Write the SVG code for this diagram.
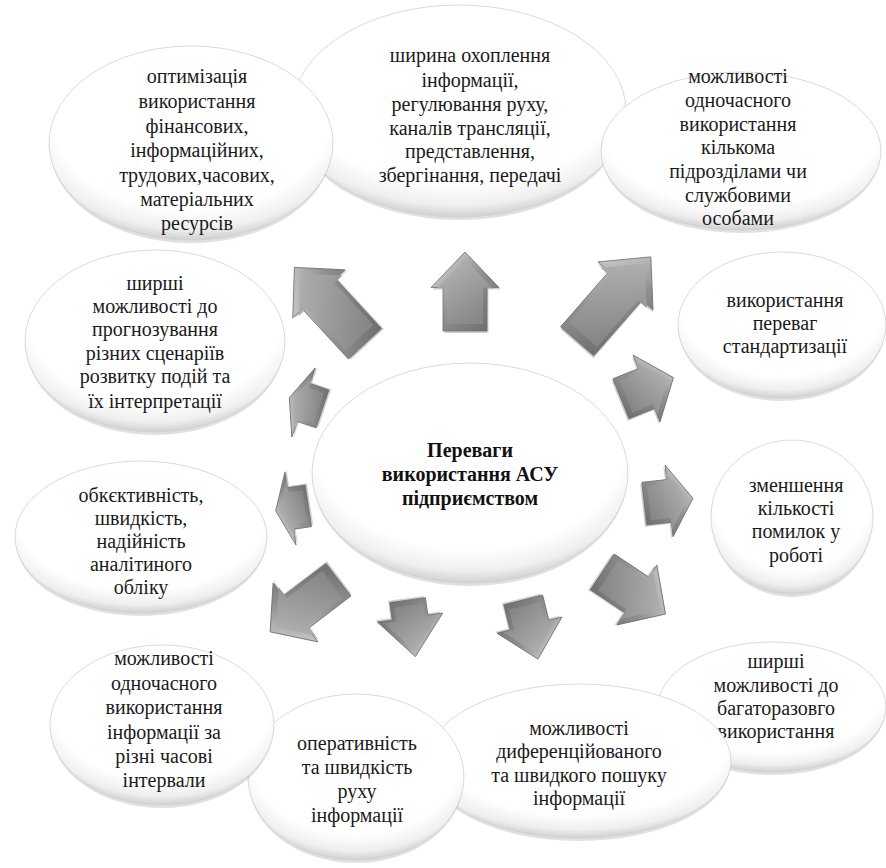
<svg xmlns="http://www.w3.org/2000/svg" width="886" height="868" viewBox="0 0 886 868">
<defs>
<radialGradient id="ellG" cx="0.5" cy="0.36" r="0.68">
<stop offset="0" stop-color="#ffffff"/>
<stop offset="0.72" stop-color="#ffffff"/>
<stop offset="0.86" stop-color="#efefef"/>
<stop offset="0.95" stop-color="#cdcdcd"/>
<stop offset="1" stop-color="#a8a8a8"/>
</radialGradient>
<linearGradient id="arrOuter" x1="0" y1="0" x2="1" y2="1">
<stop offset="0" stop-color="#e2e2e2"/>
<stop offset="0.5" stop-color="#909090"/>
<stop offset="1" stop-color="#666666"/>
</linearGradient>
<linearGradient id="arrInner" x1="0" y1="0" x2="0.6" y2="1">
<stop offset="0" stop-color="#b8b8b8"/>
<stop offset="1" stop-color="#888888"/>
</linearGradient>
</defs>
<style>
.ell{fill:url(#ellG);stroke:#cfcfcf;stroke-width:0.8}
.shd{fill:#000000;opacity:0.12}
.t{fill:#1a1a1a}
.tb{font-weight:bold;fill:#111111}
.ao{fill:url(#arrOuter);stroke:#6e6e6e;stroke-width:0.8}
.ai{fill:url(#arrInner)}
.as{fill:#000000;opacity:0.18}
</style>
<rect width="886" height="868" fill="#ffffff"/>

<g id="nodes" font-family="Liberation Serif" font-size="20" text-anchor="middle">
<g id="n-shyryna">
<ellipse class="shd" cx="459" cy="115" rx="166" ry="105"/>
<ellipse class="ell" cx="459" cy="111" rx="167" ry="106"/>
<text class="t" x="470" y="62">ширина охоплення</text>
<text class="t" x="470" y="87">інформації,</text>
<text class="t" x="470" y="111">регулювання руху,</text>
<text class="t" x="470" y="135">каналів трансляції,</text>
<text class="t" x="470" y="158">представлення,</text>
<text class="t" x="470" y="182">збергінання, передачі</text>
</g>
<g id="n-kilkoma">
<ellipse class="shd" cx="741" cy="155" rx="139" ry="78"/>
<ellipse class="ell" cx="741" cy="151" rx="140" ry="79"/>
<text class="t" x="738" y="83">можливості</text>
<text class="t" x="738" y="107">одночасного</text>
<text class="t" x="738" y="131">використання</text>
<text class="t" x="738" y="154">кількома</text>
<text class="t" x="738" y="178">підрозділами чи</text>
<text class="t" x="738" y="202">службовими</text>
<text class="t" x="738" y="225">особами</text>
</g>
<g id="n-standart">
<ellipse class="shd" cx="782" cy="329" rx="103" ry="72"/>
<ellipse class="ell" cx="782" cy="325" rx="104" ry="73"/>
<text class="t" x="785" y="307">використання</text>
<text class="t" x="785" y="330">переваг</text>
<text class="t" x="785" y="353">стандартизації</text>
</g>
<g id="n-zmenshennia">
<ellipse class="shd" cx="792" cy="521" rx="80" ry="76"/>
<ellipse class="ell" cx="792" cy="517" rx="81" ry="77"/>
<text class="t" x="796" y="492">зменшення</text>
<text class="t" x="796" y="515">кількості</text>
<text class="t" x="796" y="538">помилок у</text>
<text class="t" x="796" y="562">роботі</text>
</g>
<g id="n-bagato">
<ellipse class="shd" cx="772" cy="711" rx="113" ry="64"/>
<ellipse class="ell" cx="772" cy="707" rx="114" ry="65"/>
<text class="t" x="776" y="668">ширші</text>
<text class="t" x="776" y="692">можливості до</text>
<text class="t" x="776" y="715">багаторазовго</text>
<text class="t" x="776" y="738">використання</text>
</g>
<g id="n-dyferents">
<ellipse class="shd" cx="579" cy="765" rx="151" ry="76"/>
<ellipse class="ell" cx="579" cy="761" rx="152" ry="77"/>
<text class="t" x="579" y="735">можливості</text>
<text class="t" x="579" y="758">диференційованого</text>
<text class="t" x="579" y="782">та швидкого пошуку</text>
<text class="t" x="579" y="805">інформації</text>
</g>
<g id="n-operat">
<ellipse class="shd" cx="356" cy="781" rx="107" ry="82"/>
<ellipse class="ell" cx="356" cy="777" rx="108" ry="83"/>
<text class="t" x="357" y="750">оперативність</text>
<text class="t" x="357" y="774">та швидкість</text>
<text class="t" x="357" y="798">руху</text>
<text class="t" x="357" y="822">інформації</text>
</g>
<g id="n-intervaly">
<ellipse class="shd" cx="162" cy="729" rx="111" ry="79"/>
<ellipse class="ell" cx="162" cy="725" rx="112" ry="80"/>
<text class="t" x="164" y="665">можливості</text>
<text class="t" x="164" y="690">одночасного</text>
<text class="t" x="164" y="714">використання</text>
<text class="t" x="164" y="739">інформації за</text>
<text class="t" x="164" y="763">різні часові</text>
<text class="t" x="164" y="787">інтервали</text>
</g>
<g id="n-obiekt">
<ellipse class="shd" cx="141" cy="541" rx="125" ry="75"/>
<ellipse class="ell" cx="141" cy="537" rx="126" ry="76"/>
<text class="t" x="141" y="502">обкєктивність,</text>
<text class="t" x="141" y="525">швидкість,</text>
<text class="t" x="141" y="548">надійність</text>
<text class="t" x="141" y="571">аналітиного</text>
<text class="t" x="141" y="594">обліку</text>
</g>
<g id="n-prognoz">
<ellipse class="shd" cx="155" cy="345" rx="129" ry="90"/>
<ellipse class="ell" cx="155" cy="341" rx="130" ry="91"/>
<text class="t" x="155" y="290">ширші</text>
<text class="t" x="155" y="313">можливості до</text>
<text class="t" x="155" y="336">прогнозування</text>
<text class="t" x="155" y="360">різних сценаріїв</text>
<text class="t" x="155" y="383">розвитку подій та</text>
<text class="t" x="155" y="408">їх інтерпретації</text>
</g>
<g id="n-optym">
<ellipse class="shd" cx="191" cy="147" rx="141" ry="96"/>
<ellipse class="ell" cx="191" cy="143" rx="142" ry="97"/>
<text class="t" x="197" y="83">оптимізація</text>
<text class="t" x="197" y="108">використання</text>
<text class="t" x="197" y="133">фінансових,</text>
<text class="t" x="197" y="157">інформаційних,</text>
<text class="t" x="197" y="182">трудових,часових,</text>
<text class="t" x="197" y="206">матеріальних</text>
<text class="t" x="197" y="230">ресурсів</text>
</g>
<g id="n-center">
<ellipse class="shd" cx="470" cy="477" rx="157" ry="109"/>
<ellipse class="ell" cx="470" cy="473" rx="158" ry="110"/>
<text class="tb" x="470" y="457">Переваги</text>
<text class="tb" x="470" y="481">використання АСУ</text>
<text class="tb" x="470" y="505">підприємством</text>
</g>
</g>

<g id="connectors">
<g transform="translate(329.7,305.6) rotate(-42.7)">
<polygon class="as" transform="translate(1.5,2)" points="0,-52 35.5,-16 22.5,-16 22.5,52 -22.5,52 -22.5,-16 -35.5,-16"/>
<polygon class="ao" points="0,-52 35.5,-16 22.5,-16 22.5,52 -22.5,52 -22.5,-16 -35.5,-16"/>
<polygon class="ai" transform="scale(0.84)" points="0,-52 35.5,-16 22.5,-16 22.5,52 -22.5,52 -22.5,-16 -35.5,-16"/>
</g>
<g transform="translate(465,291.5)">
<polygon class="as" transform="translate(1.5,2)" points="0,-39.5 34,-4 22,-4 22,39.5 -22,39.5 -22,-4 -34,-4"/>
<polygon class="ao" points="0,-39.5 34,-4 22,-4 22,39.5 -22,39.5 -22,-4 -34,-4"/>
<polygon class="ai" transform="scale(0.82)" points="0,-39.5 34,-4 22,-4 22,39.5 -22,39.5 -22,-4 -34,-4"/>
</g>
<g transform="translate(614,299.1) rotate(41.1)">
<polygon class="as" transform="translate(1.5,2)" points="0,-56 36.5,-17.5 22,-17.5 22,56 -22,56 -22,-17.5 -36.5,-17.5"/>
<polygon class="ao" points="0,-56 36.5,-17.5 22,-17.5 22,56 -22,56 -22,-17.5 -36.5,-17.5"/>
<polygon class="ai" transform="scale(0.84)" points="0,-56 36.5,-17.5 22,-17.5 22,56 -22,56 -22,-17.5 -36.5,-17.5"/>
</g>
<g transform="translate(647.2,388.2) rotate(68)">
<polygon class="as" transform="translate(1.5,2)" points="0,-28.3 36,0.7 21.5,0.7 21.5,28.3 -21.5,28.3 -21.5,0.7 -36,0.7"/>
<polygon class="ao" points="0,-28.3 36,0.7 21.5,0.7 21.5,28.3 -21.5,28.3 -21.5,0.7 -36,0.7"/>
<polygon class="ai" transform="scale(0.8)" points="0,-28.3 36,0.7 21.5,0.7 21.5,28.3 -21.5,28.3 -21.5,0.7 -36,0.7"/>
</g>
<g transform="translate(668.6,501) rotate(83.7)">
<polygon class="as" transform="translate(1.5,2)" points="0,-24.5 36,-0.5 21.5,-0.5 21.5,24.5 -21.5,24.5 -21.5,-0.5 -36,-0.5"/>
<polygon class="ao" points="0,-24.5 36,-0.5 21.5,-0.5 21.5,24.5 -21.5,24.5 -21.5,-0.5 -36,-0.5"/>
<polygon class="ai" transform="scale(0.8)" points="0,-24.5 36,-0.5 21.5,-0.5 21.5,24.5 -21.5,24.5 -21.5,-0.5 -36,-0.5"/>
</g>
<g transform="translate(633.9,593) rotate(123.7)">
<polygon class="as" transform="translate(1.5,2)" points="0,-38 36,-3.6 21.5,-3.6 21.5,38 -21.5,38 -21.5,-3.6 -36,-3.6"/>
<polygon class="ao" points="0,-38 36,-3.6 21.5,-3.6 21.5,38 -21.5,38 -21.5,-3.6 -36,-3.6"/>
<polygon class="ai" transform="scale(0.82)" points="0,-38 36,-3.6 21.5,-3.6 21.5,38 -21.5,38 -21.5,-3.6 -36,-3.6"/>
</g>
<g transform="translate(530.6,629.5) rotate(166)">
<polygon class="as" transform="translate(1.5,2)" points="0,-30.5 33.5,4.5 20,4.5 20,30.5 -20,30.5 -20,4.5 -33.5,4.5"/>
<polygon class="ao" points="0,-30.5 33.5,4.5 20,4.5 20,30.5 -20,30.5 -20,4.5 -33.5,4.5"/>
<polygon class="ai" transform="scale(0.8)" points="0,-30.5 33.5,4.5 20,4.5 20,30.5 -20,30.5 -20,4.5 -33.5,4.5"/>
</g>
<g transform="translate(411.5,628.4) rotate(172.2)">
<polygon class="as" transform="translate(1.5,2)" points="0,-28.5 33,10.9 18,10.9 18,28.5 -18,28.5 -18,10.9 -33,10.9"/>
<polygon class="ao" points="0,-28.5 33,10.9 18,10.9 18,28.5 -18,28.5 -18,10.9 -33,10.9"/>
<polygon class="ai" transform="scale(0.8)" points="0,-28.5 33,10.9 18,10.9 18,28.5 -18,28.5 -18,10.9 -33,10.9"/>
</g>
<g transform="translate(304.3,605.8) rotate(-127.3)">
<polygon class="as" transform="translate(1.5,2)" points="0,-43 37,-11 20.5,-11 20.5,43 -20.5,43 -20.5,-11 -37,-11"/>
<polygon class="ao" points="0,-43 37,-11 20.5,-11 20.5,43 -20.5,43 -20.5,-11 -37,-11"/>
<polygon class="ai" transform="scale(0.82)" points="0,-43 37,-11 20.5,-11 20.5,43 -20.5,43 -20.5,-11 -37,-11"/>
</g>
<g transform="translate(292,508.3) rotate(-98.6)">
<polygon class="as" transform="translate(1.5,2)" points="0,-16.5 37,-1.5 21,-1.5 21,16.5 -21,16.5 -21,-1.5 -37,-1.5"/>
<polygon class="ao" points="0,-16.5 37,-1.5 21,-1.5 21,16.5 -21,16.5 -21,-1.5 -37,-1.5"/>
<polygon class="ai" transform="scale(0.78)" points="0,-16.5 37,-1.5 21,-1.5 21,16.5 -21,16.5 -21,-1.5 -37,-1.5"/>
</g>
<g transform="translate(305.9,403.3) rotate(-71.3)">
<polygon class="as" transform="translate(1.5,2)" points="0,-17.5 36.5,-2.5 20,-2.5 20,17.5 -20,17.5 -20,-2.5 -36.5,-2.5"/>
<polygon class="ao" points="0,-17.5 36.5,-2.5 20,-2.5 20,17.5 -20,17.5 -20,-2.5 -36.5,-2.5"/>
<polygon class="ai" transform="scale(0.78)" points="0,-17.5 36.5,-2.5 20,-2.5 20,17.5 -20,17.5 -20,-2.5 -36.5,-2.5"/>
</g>
</g>
</svg>
